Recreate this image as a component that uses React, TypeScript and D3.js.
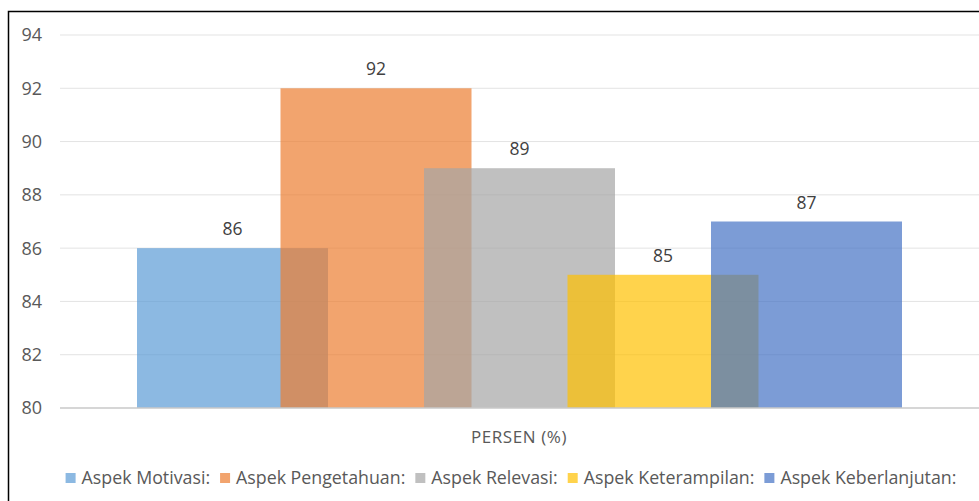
import * as d3 from "d3";
import React, { useEffect, useRef } from "react";

const series = [
  "Aspek Motivasi:",
  "Aspek Pengetahuan:",
  "Aspek Relevasi:",
  "Aspek Keterampilan:",
  "Aspek Keberlanjutan:",
];
const values = [86, 92, 89, 85, 87];
const colors = ["#5B9BD5", "#ED7D31", "#A5A5A5", "#FFC000", "#4472C4"];
const yTicks = [80, 82, 84, 86, 88, 90, 92, 94];
const category = "PERSEN (%)";

export default function App() {
  const svgRef = useRef<SVGSVGElement>(null);
  const width = 979;
  const height = 501;

  useEffect(() => {
    const svg = d3.select(svgRef.current);
    svg.selectAll("*").remove();
    const font = "'Open Sans', 'DejaVu Sans', sans-serif";

    // frame
    svg.append("rect")
      .attr("x", 8.5).attr("y", 11.5)
      .attr("width", 1000).attr("height", 600)
      .attr("fill", "#fff").attr("stroke", "#000").attr("stroke-width", 1.5);

    const y = d3.scaleLinear().domain([80, 94]).range([408, 35]);
    const x = d3.scalePoint<string>().domain(series).range([232.5, 806.5]);
    const barW = 191;

    // gridlines
    svg.append("g").selectAll("line")
      .data(yTicks.slice(1))
      .enter().append("line")
      .attr("x1", 60).attr("x2", 979)
      .attr("y1", d => y(d)).attr("y2", d => y(d))
      .attr("stroke", "#E3E3E3").attr("stroke-width", 1);

    svg.append("g").selectAll("text")
      .data(yTicks)
      .enter().append("text")
      .attr("x", 42).attr("y", d => y(d))
      .attr("dy", "0.36em")
      .attr("text-anchor", "end")
      .attr("font-family", font).attr("font-size", 18)
      .attr("fill", "#595959")
      .text(d => d);

    // bars
    svg.append("g").selectAll("rect")
      .data(values)
      .enter().append("rect")
      .attr("x", (d, i) => (x(series[i]) as number) - barW / 2)
      .attr("width", barW)
      .attr("y", d => y(d))
      .attr("height", d => y(80) - y(d))
      .attr("fill", (d, i) => colors[i])
      .attr("fill-opacity", 0.7);

    // baseline
    svg.append("line")
      .attr("x1", 60).attr("x2", 979)
      .attr("y1", y(80)).attr("y2", y(80))
      .attr("stroke", "#C8C8C8").attr("stroke-width", 1.5);

    // labels
    svg.append("g").selectAll("text")
      .data(values)
      .enter().append("text")
      .attr("x", (d, i) => x(series[i]) as number)
      .attr("y", d => y(d) - 13)
      .attr("text-anchor", "middle")
      .attr("font-family", font).attr("font-size", 17.5)
      .attr("fill", "#404040")
      .text(d => d);

    svg.append("text")
      .attr("x", 519).attr("y", 443)
      .attr("text-anchor", "middle")
      .attr("font-family", font).attr("font-size", 17)
      .attr("letter-spacing", 0.6)
      .attr("fill", "#595959")
      .text(category);

    // legend
    const lg = svg.append("g");
    let cx = 0;
    series.forEach((s, i) => {
      lg.append("rect")
        .attr("x", cx).attr("y", -5)
        .attr("width", 10).attr("height", 10)
        .attr("fill", colors[i]).attr("fill-opacity", 0.7);
      const t = lg.append("text")
        .attr("x", cx + 16).attr("y", 0).attr("dy", "0.35em")
        .attr("font-family", font).attr("font-size", 17.8)
        .attr("fill", "#595959")
        .text(s);
      const w = (t.node() as SVGTextElement).getComputedTextLength();
      cx += 16 + w + 10;
    });
    const total = cx - 10;
    lg.attr("transform", `translate(${511 - total / 2},478)`);
  }, []);

  return (
    <svg ref={svgRef} width={width} height={height}
      style={{ position: "absolute", left: 0, top: 0, background: "#fff" }} />
  );
}
